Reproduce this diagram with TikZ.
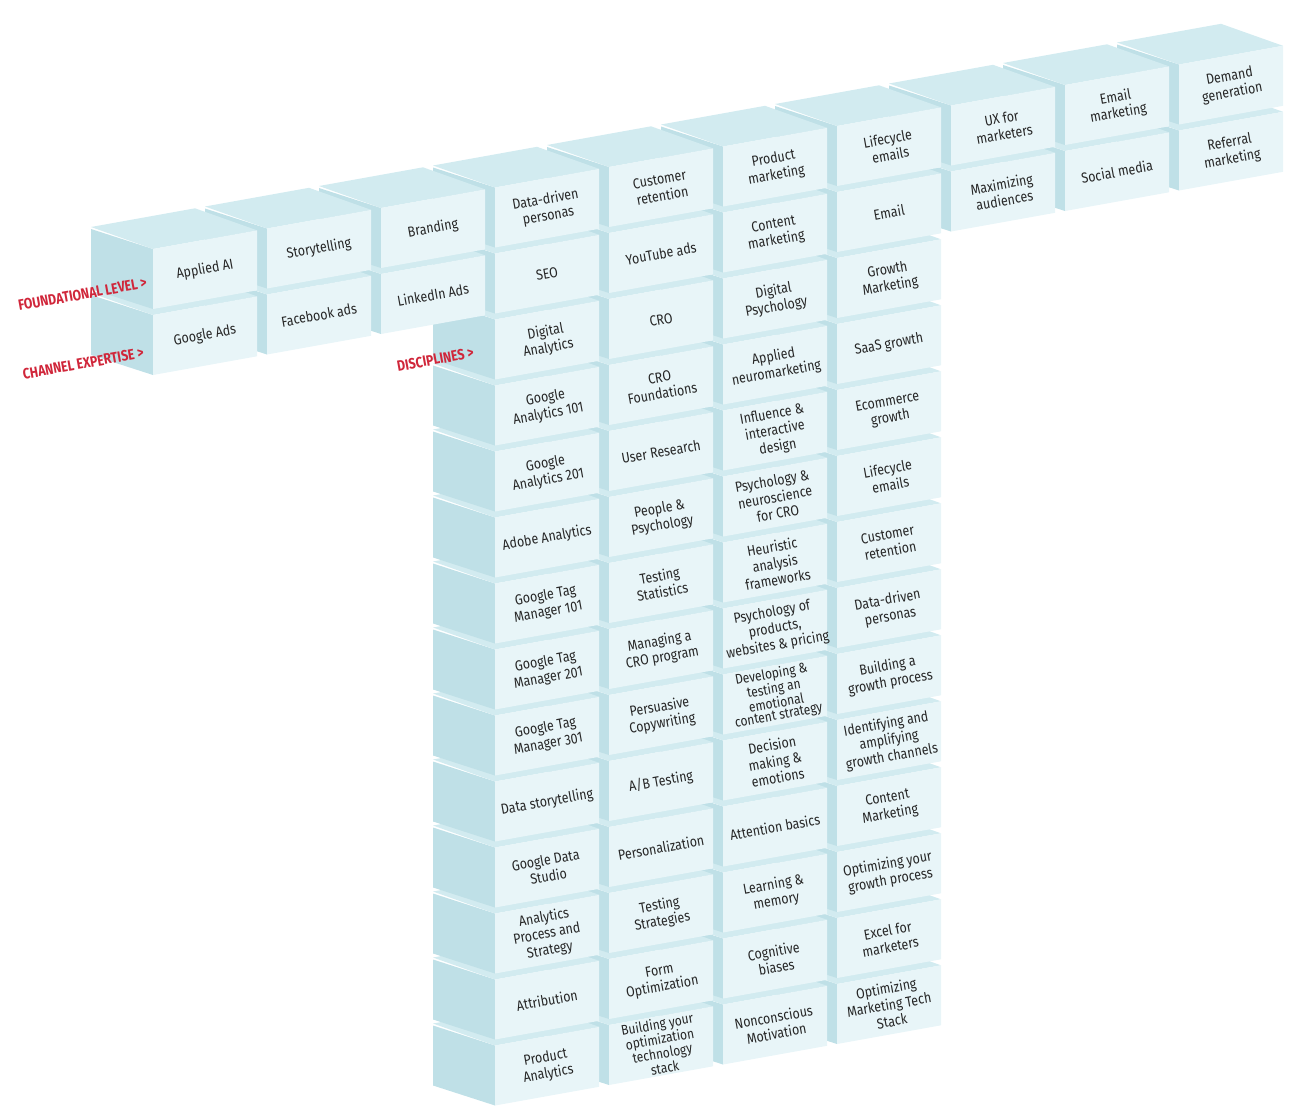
\documentclass[tikz,border=0pt]{standalone}
\usepackage{fontspec}
\newfontfamily\lab[FakeStretch=0.86]{Fira Sans}
\newfontfamily\labb[FakeStretch=0.82]{Fira Sans Bold}
\definecolor{frontc}{HTML}{E8F5F8}
\definecolor{sidec}{HTML}{BFE0E7}
\definecolor{topc}{HTML}{D2EBF0}
\definecolor{redc}{HTML}{D0263A}
\tikzset{
  facefront/.style={fill=frontc},
  faceside/.style={fill=sidec},
  facetop/.style={fill=topc},
  blocktext/.style={rotate=10.2,align=center,inner sep=1pt,font=\lab\fontsize{14.5}{16.5}\selectfont,text=black!85},
  tighttext/.style={blocktext,font=\lab\fontsize{14}{12}\selectfont},
  redlabel/.style={rotate=10.2,anchor=east,font=\labb\fontsize{15}{17}\selectfont,text=redc}
}
\newcommand\blk[4][blocktext]{%
  \pgfmathsetmacro\xa{153+114*#2}%
  \pgfmathsetmacro\ya{249-20.5*#2+66*#3}%
  \fill[faceside] (\xa,\ya) -- ++(-62,-20) -- ++(0,60) -- ++(62,20) -- cycle;
  \fill[facetop] (\xa,\ya) -- ++(104,-18.7) -- ++(-62,-22) -- ++(-104,18.7) -- cycle;
  \fill[facefront] (\xa,\ya) -- ++(104,-18.7) -- ++(0,60) -- ++(-104,18.7) -- cycle;
  \node[#1] (b-#2-#3) at (\xa+52,\ya+20.6) {#4};
}
\begin{document}
\begin{tikzpicture}[x=1pt,y=-1pt]
\useasboundingbox (0,0) rectangle (1301,1114);
\blk{9}{1}{Referral\\marketing}
\blk{9}{0}{Demand\\generation}
\blk{8}{1}{Social media}
\blk{8}{0}{Email\\marketing}
\blk{7}{1}{Maximizing\\audiences}
\blk{7}{0}{UX for\\marketers}
\blk{6}{13}{Optimizing\\Marketing Tech\\Stack}
\blk{6}{12}{Excel for\\marketers}
\blk{6}{11}{Optimizing your\\growth process}
\blk{6}{10}{Content\\Marketing}
\blk{6}{9}{Identifying and\\amplifying\\growth channels}
\blk{6}{8}{Building a\\growth process}
\blk{6}{7}{Data-driven\\personas}
\blk{6}{6}{Customer\\retention}
\blk{6}{5}{Lifecycle\\emails}
\blk{6}{4}{Ecommerce\\growth}
\blk{6}{3}{SaaS growth}
\blk{6}{2}{Growth\\Marketing}
\blk{6}{1}{Email}
\blk{6}{0}{Lifecycle\\emails}
\blk{5}{13}{Nonconscious\\Motivation}
\blk{5}{12}{Cognitive\\biases}
\blk{5}{11}{Learning \&\\memory}
\blk{5}{10}{Attention basics}
\blk{5}{9}{Decision\\making \&\\emotions}
\blk[tighttext]{5}{8}{Developing \&\\testing an\\emotional\\content strategy}
\blk{5}{7}{Psychology of\\products,\\websites \& pricing}
\blk{5}{6}{Heuristic\\analysis\\frameworks}
\blk{5}{5}{Psychology \&\\neuroscience\\for CRO}
\blk{5}{4}{Influence \&\\interactive\\design}
\blk{5}{3}{Applied\\neuromarketing}
\blk{5}{2}{Digital\\Psychology}
\blk{5}{1}{Content\\marketing}
\blk{5}{0}{Product\\marketing}
\blk[tighttext]{4}{13}{Building your\\optimization\\technology\\stack}
\blk{4}{12}{Form\\Optimization}
\blk{4}{11}{Testing\\Strategies}
\blk{4}{10}{Personalization}
\blk{4}{9}{A/B Testing}
\blk{4}{8}{Persuasive\\Copywriting}
\blk{4}{7}{Managing a\\CRO program}
\blk{4}{6}{Testing\\Statistics}
\blk{4}{5}{People \&\\Psychology}
\blk{4}{4}{User Research}
\blk{4}{3}{CRO\\Foundations}
\blk{4}{2}{CRO}
\blk{4}{1}{YouTube ads}
\blk{4}{0}{Customer\\retention}
\blk{3}{13}{Product\\Analytics}
\blk{3}{12}{Attribution}
\blk{3}{11}{Analytics\\Process and\\Strategy}
\blk{3}{10}{Google Data\\Studio}
\blk{3}{9}{Data storytelling}
\blk{3}{8}{Google Tag\\Manager 301}
\blk{3}{7}{Google Tag\\Manager 201}
\blk{3}{6}{Google Tag\\Manager 101}
\blk{3}{5}{Adobe Analytics}
\blk{3}{4}{Google\\Analytics 201}
\blk{3}{3}{Google\\Analytics 101}
\blk{3}{2}{Digital\\Analytics}
\blk{3}{1}{SEO}
\blk{3}{0}{Data-driven\\personas}
\blk{2}{1}{LinkedIn Ads}
\blk{2}{0}{Branding}
\blk{1}{1}{Facebook ads}
\blk{1}{0}{Storytelling}
\blk{0}{1}{Google Ads}
\blk{0}{0}{Applied AI}
\node[redlabel] (lf) at (150,282) {FOUNDATIONAL LEVEL >};
\node[redlabel] (lc) at (147,352) {CHANNEL EXPERTISE >};
\node[redlabel] (ld) at (477,352) {DISCIPLINES >};
\end{tikzpicture}
\end{document}
